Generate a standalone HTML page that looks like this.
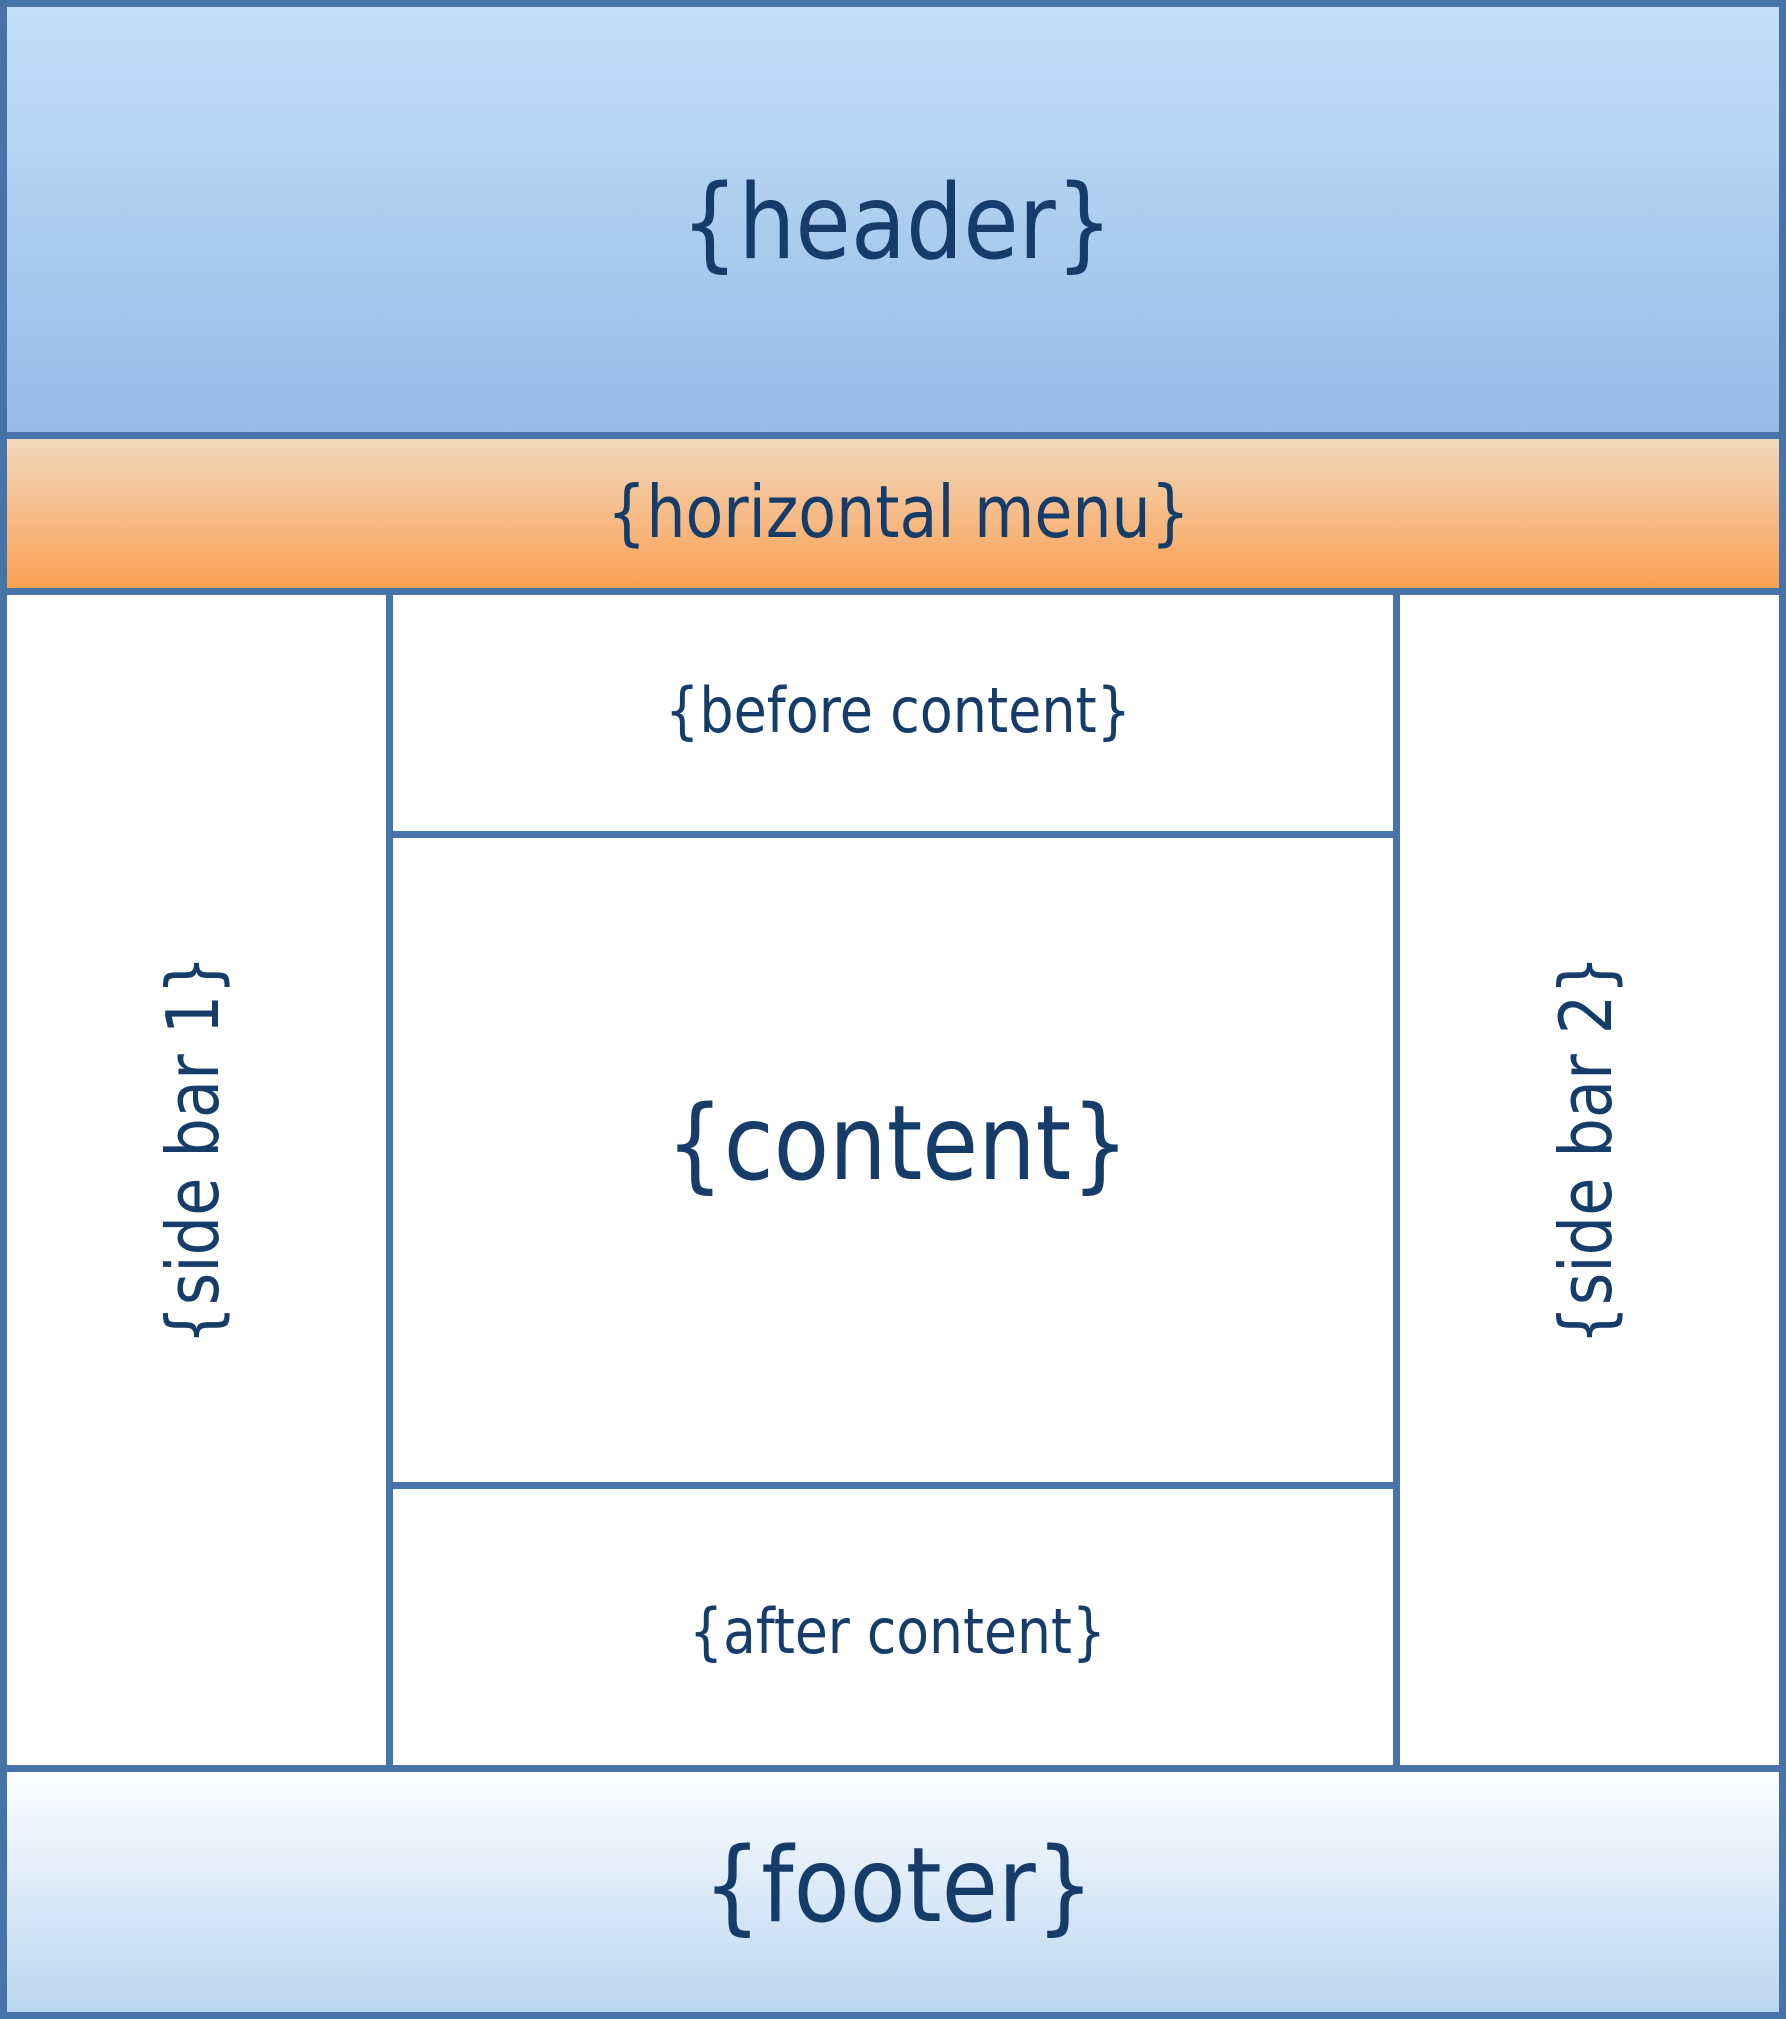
<!DOCTYPE html>
<html>
<head>
<meta charset="utf-8">
<style>
  html, body { margin: 0; padding: 0; background: #ffffff; }
  body { width: 1786px; height: 2019px; overflow: hidden; }
  svg { display: block; }
  text { font-family: "DejaVu Sans", "Liberation Sans", sans-serif; fill: #163d6a; }
</style>
</head>
<body>
<svg width="1786" height="2019" viewBox="0 0 1786 2019" xmlns="http://www.w3.org/2000/svg">
  <defs>
    <linearGradient id="gHeader" x1="0" y1="0" x2="0" y2="1">
      <stop offset="0" stop-color="#c5dff8"/>
      <stop offset="1" stop-color="#96bbe7"/>
    </linearGradient>
    <linearGradient id="gMenu" x1="0" y1="0" x2="0" y2="1">
      <stop offset="0" stop-color="#f2d8bc"/>
      <stop offset="0.5" stop-color="#f6bc88"/>
      <stop offset="1" stop-color="#fca052"/>
    </linearGradient>
    <linearGradient id="gFooter" x1="0" y1="0" x2="0" y2="1">
      <stop offset="0" stop-color="#fdfeff"/>
      <stop offset="1" stop-color="#bbd6f0"/>
    </linearGradient>
  </defs>

  <rect x="0" y="0" width="1786" height="2019" fill="#4674a8"/>

  <rect x="7" y="7" width="1772" height="425" fill="url(#gHeader)"/>
  <rect x="7" y="439" width="1772" height="149" fill="url(#gMenu)"/>
  <rect x="7" y="595" width="379" height="1170" fill="#ffffff"/>
  <rect x="393" y="595" width="1000" height="236" fill="#ffffff"/>
  <rect x="393" y="838" width="1000" height="644" fill="#ffffff"/>
  <rect x="393" y="1489" width="1000" height="276" fill="#ffffff"/>
  <rect x="1400" y="595" width="379" height="1170" fill="#ffffff"/>
  <rect x="7" y="1772" width="1772" height="240" fill="url(#gFooter)"/>

  <text x="681" y="258" font-size="103" textLength="432" lengthAdjust="spacingAndGlyphs">{header}</text>
  <text x="607" y="537" font-size="72" textLength="583" lengthAdjust="spacingAndGlyphs">{horizontal menu}</text>
  <text x="665" y="732" font-size="62" textLength="466" lengthAdjust="spacingAndGlyphs">{before content}</text>
  <text x="666" y="1179" font-size="103" textLength="463" lengthAdjust="spacingAndGlyphs">{content}</text>
  <text x="689" y="1653" font-size="62" textLength="417" lengthAdjust="spacingAndGlyphs">{after content}</text>
  <text x="703" y="1921" font-size="103" textLength="391" lengthAdjust="spacingAndGlyphs">{footer}</text>

  <text transform="translate(218,1345) rotate(-90)" x="0" y="0" font-size="72" textLength="390" lengthAdjust="spacingAndGlyphs">{side bar 1}</text>
  <text transform="translate(1611,1345) rotate(-90)" x="0" y="0" font-size="72" textLength="390" lengthAdjust="spacingAndGlyphs">{side bar 2}</text>
</svg>
</body>
</html>
